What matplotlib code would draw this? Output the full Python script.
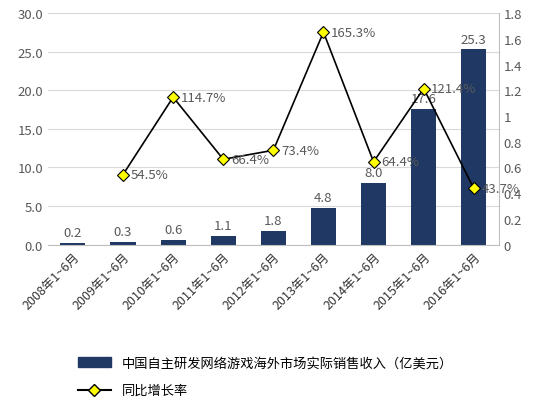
import matplotlib
matplotlib.use("Agg")
import matplotlib.pyplot as plt
from matplotlib.lines import Line2D
from matplotlib.patches import Patch

plt.rcParams['font.family'] = ['Noto Sans CJK SC', 'DejaVu Sans']

categories = ["2008年1~6月", "2009年1~6月", "2010年1~6月", "2011年1~6月", "2012年1~6月",
              "2013年1~6月", "2014年1~6月", "2015年1~6月", "2016年1~6月"]
revenue = [0.2, 0.3, 0.6, 1.1, 1.8, 4.8, 8.0, 17.6, 25.3]
growth = [None, 0.545, 1.147, 0.664, 0.734, 1.653, 0.644, 1.214, 0.437]
left_ticks = [0, 5, 10, 15, 20, 25, 30]
right_ticks = [0, 0.2, 0.4, 0.6, 0.8, 1.0, 1.2, 1.4, 1.6, 1.8]

bar_color = "#1F3864"
text_color = "#595959"

fig = plt.figure(figsize=(5.5, 4.06), dpi=100)
ax = fig.add_axes([0.087, 0.395, 0.82, 0.57])
x = list(range(len(categories)))
ax.bar(x, revenue, width=0.5, color=bar_color, zorder=2)
for xi, v in zip(x, revenue):
    ax.text(xi, v + 0.5, f"{v:.1f}", ha="center", va="bottom", fontsize=9.5, color=text_color)
ax.set_ylim(0, 30)
ax.set_yticks(left_ticks)
ax.set_yticklabels([f"{t:.1f}" for t in left_ticks], fontsize=9.5, color=text_color)
ax.set_xlim(-0.5, len(categories) - 0.5)
ax.set_xticks(x)
ax.set_xticklabels(categories, rotation=45, ha="right", rotation_mode="anchor", fontsize=9, color="#333333")
ax.yaxis.grid(True, color="#d9d9d9", linewidth=0.8, zorder=0)
ax.set_axisbelow(True)
for s in ["top", "right", "left"]:
    ax.spines[s].set_visible(False)
ax.spines["bottom"].set_color("#bfbfbf")
ax.tick_params(axis="both", length=0)

ax2 = ax.twinx()
gx = [xi for xi, g in zip(x, growth) if g is not None]
gy = [g for g in growth if g is not None]
ax2.plot(gx, gy, color="black", linewidth=1.2, marker="D", markersize=6,
         markerfacecolor="#FFFF00", markeredgecolor="black", markeredgewidth=0.8, zorder=3)
for xi, g in zip(gx, gy):
    ax2.text(xi + 0.15, g, f"{g * 100:.1f}%", ha="left", va="center", fontsize=9.5,
             color=text_color, zorder=4)
ax2.set_ylim(0, 1.8)
ax2.set_yticks(right_ticks)
ax2.set_yticklabels([f"{t:g}" for t in right_ticks], fontsize=9.5, color=text_color)
for s in ["top", "left", "bottom"]:
    ax2.spines[s].set_visible(False)
ax2.spines["right"].set_color("#bfbfbf")
ax2.tick_params(axis="y", length=0)

handles = [Patch(color=bar_color),
           Line2D([0], [0], color="black", marker="D", markersize=6,
                  markerfacecolor="#FFFF00", markeredgecolor="black")]
labels = ["中国自主研发网络游戏海外市场实际销售收入（亿美元）", "同比增长率"]
fig.legend(handles, labels, loc="lower left", bbox_to_anchor=(0.12, -0.01), frameon=False,
           fontsize=9.5, labelspacing=1.1, handlelength=2.5)

fig.savefig("out.png", dpi=100)
